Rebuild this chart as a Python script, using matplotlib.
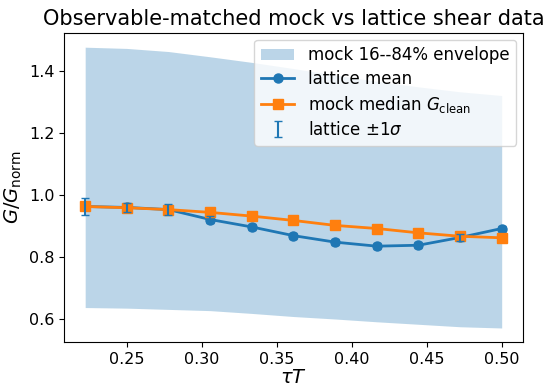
import matplotlib
matplotlib.use("Agg")
import matplotlib.pyplot as plt
import numpy as np

# tau*T grid (N_tau = 36, points 8..18)
tau_T = [8 / 36, 9 / 36, 10 / 36, 11 / 36, 12 / 36, 13 / 36,
         14 / 36, 15 / 36, 16 / 36, 17 / 36, 18 / 36]

lattice_mean = [0.962, 0.959, 0.952, 0.920, 0.896, 0.868,
                0.847, 0.834, 0.837, 0.862, 0.891]
lattice_err = [0.027, 0.015, 0.018, 0.012, 0.011, 0.010,
               0.009, 0.009, 0.009, 0.012, 0.008]

mock_median = [0.962, 0.958, 0.952, 0.943, 0.931, 0.917,
               0.901, 0.891, 0.877, 0.866, 0.861]
mock_lo = [0.636, 0.634, 0.630, 0.626, 0.617, 0.607,
           0.599, 0.590, 0.582, 0.574, 0.570]
mock_hi = [1.476, 1.472, 1.462, 1.445, 1.427, 1.407,
           1.386, 1.366, 1.348, 1.332, 1.320]

fig, ax = plt.subplots(figsize=(5.5, 3.9), dpi=100)

ax.fill_between(tau_T, mock_lo, mock_hi, color="C0", alpha=0.3,
                linewidth=0, label="mock 16--84% envelope")
ax.plot(tau_T, lattice_mean, "o-", color="C0", linewidth=2, markersize=6.5,
        label="lattice mean")
ax.plot(tau_T, mock_median, "s-", color="C1", linewidth=2, markersize=6.5,
        label=r"mock median $G_{\rm clean}$")
ax.errorbar(tau_T, lattice_mean, yerr=lattice_err, fmt="none", ecolor="C0",
            elinewidth=1.5, capsize=3, label=r"lattice $\pm1\sigma$")

ax.set_xlabel(r"$\tau T$", fontsize=14, labelpad=1)
ax.set_ylabel(r"$G/G_{\rm norm}$", fontsize=14)
ax.set_title("Observable-matched mock vs lattice shear data", fontsize=15)
ax.tick_params(labelsize=11.5)
ax.legend(fontsize=12, loc="upper right", borderaxespad=0.4,
          labelspacing=0.35)

fig.subplots_adjust(left=0.117, right=0.95, top=0.915, bottom=0.123)
fig.savefig("out.png", dpi=100)
